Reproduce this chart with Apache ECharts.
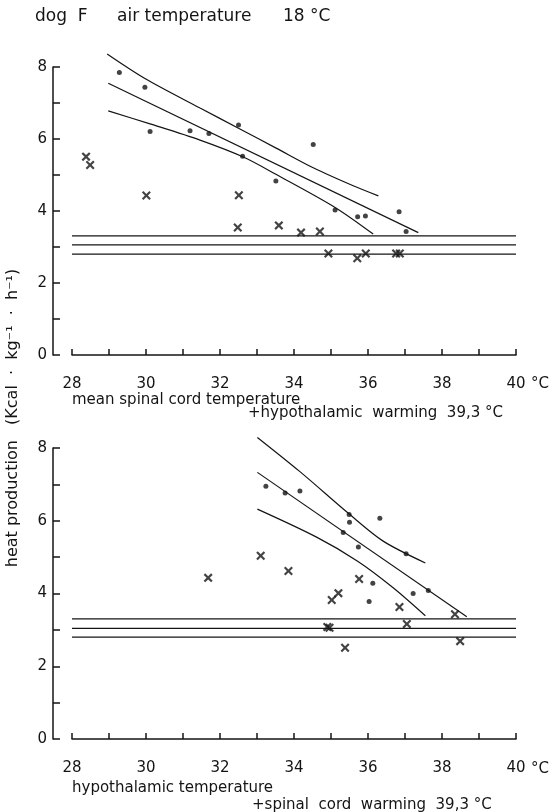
<!DOCTYPE html>
<html>
<head>
<meta charset="utf-8">
<script src="https://cdn.jsdelivr.net/npm/echarts@6/dist/echarts.min.js"></script>
<style>
html, body { margin: 0; padding: 0; background: #fff; }
#chart { width: 559px; height: 812px; }
</style>
</head>
<body>
<div id="chart"></div>
<script>
// panel 1: spinal cord temperature (+ hypothalamic warming)
var topDots = [[29.28, 7.85], [29.97, 7.44], [30.11, 6.21], [31.19, 6.23], [31.70, 6.15], [32.50, 6.39],
    [32.61, 5.52], [33.51, 4.83], [34.52, 5.85], [35.11, 4.03], [35.72, 3.84], [35.93, 3.86],
    [36.84, 3.98], [37.03, 3.43]];
var topCrosses = [[28.38, 5.51], [28.49, 5.28], [30.01, 4.43], [32.51, 4.44], [32.48, 3.54], [33.59, 3.60],
    [34.19, 3.40], [34.70, 3.43], [34.93, 2.82], [35.71, 2.69], [35.94, 2.82], [36.76, 2.82], [36.86, 2.82]];
var topUpper = [[28.95, 8.36], [29.97, 7.68], [31.46, 6.86], [32.50, 6.30], [33.53, 5.74], [34.52, 5.20],
    [35.60, 4.70], [36.28, 4.42]];
var topMiddle = [[28.98, 7.55], [37.36, 3.40]];
var topLower = [[28.98, 6.78], [30.11, 6.42], [31.46, 5.97], [32.63, 5.50], [33.51, 5.02], [35.11, 4.10],
    [36.14, 3.36]];
var topLevels = [3.31, 3.06, 2.80];

// panel 2: hypothalamic temperature (+ spinal cord warming)
var botDots = [[33.24, 6.95], [33.76, 6.76], [34.16, 6.82], [35.49, 6.17], [35.50, 5.96], [36.32, 6.07],
    [35.33, 5.68], [35.74, 5.28], [37.03, 5.09], [36.13, 4.28], [36.03, 3.78], [37.22, 4.00], [37.63, 4.08]];
var botOpen = [[32.70, 5.21]];
var botCrosses = [[33.10, 5.04], [31.68, 4.43], [33.85, 4.62], [35.76, 4.40], [35.02, 3.82], [35.20, 4.01],
    [36.85, 3.63], [34.90, 3.08], [34.96, 3.06], [35.38, 2.51], [37.05, 3.16], [38.35, 3.43], [38.49, 2.69]];
var botUpper = [[33.01, 8.29], [34.16, 7.35], [35.51, 6.17], [36.41, 5.44], [37.55, 4.84]];
var botMiddle = [[33.01, 7.33], [38.67, 3.36]];
var botLower = [[33.01, 6.32], [34.61, 5.55], [35.72, 4.89], [36.68, 4.16], [37.55, 3.39]];
var botLevels = [3.30, 3.04, 2.80];

var xMin = 28, xMax = 40;
var yMin = 0, yMax = 8;

var FONT = '"DejaVu Sans", "Liberation Sans", sans-serif';
var INK = '#141414';
var crossPath = 'path://M0,1.7L1.7,0L5,3.3L8.3,0L10,1.7L6.7,5L10,8.3L8.3,10L5,6.7L1.7,10L0,8.3L3.3,5Z';

function xAxisFor(idx) {
    return {
        type: 'value', gridIndex: idx, min: xMin, max: xMax, interval: 1,
        position: 'bottom', offset: 19,
        axisLine: { lineStyle: { color: INK, width: 1.5 } },
        axisTick: { inside: true, length: 6, lineStyle: { color: INK, width: 1.5 } },
        axisLabel: {
            color: INK, fontFamily: FONT, fontSize: 15, margin: 3,
            formatter: function (v) { return v % 2 === 0 ? String(v) : ''; }
        },
        splitLine: { show: false }
    };
}
function yAxisFor(idx) {
    return {
        type: 'value', gridIndex: idx, min: yMin, max: yMax, interval: 1,
        offset: 19,
        axisLine: { show: true, lineStyle: { color: INK, width: 1.5 } },
        axisTick: { show: true, inside: true, length: 7, lineStyle: { color: INK, width: 1.5 } },
        axisLabel: {
            color: INK, fontFamily: FONT, fontSize: 15, margin: 6,
            formatter: function (v) { return v % 2 === 0 ? String(v) : ''; }
        },
        splitLine: { show: false }
    };
}

function lineSeries(idx, data, smooth) {
    return {
        type: 'line', xAxisIndex: idx, yAxisIndex: idx, data: data,
        smooth: smooth ? 0.3 : false, symbol: 'none', silent: true, clip: false,
        lineStyle: { color: INK, width: 1.2 }
    };
}
function levelSeries(idx, levels) {
    return levels.map(function (v) {
        return lineSeries(idx, [[xMin, v], [xMax, v]], false);
    });
}
function panelSeries(idx, dots, crosses, upper, middle, lower, levels) {
    var s = [
        lineSeries(idx, upper, true),
        lineSeries(idx, middle, false),
        lineSeries(idx, lower, true)
    ].concat(levelSeries(idx, levels));
    s.push({
        type: 'scatter', xAxisIndex: idx, yAxisIndex: idx, data: dots,
        symbol: 'circle', symbolSize: 5, itemStyle: { color: INK }
    });
    s.push({
        type: 'scatter', xAxisIndex: idx, yAxisIndex: idx, data: crosses,
        symbol: crossPath, symbolSize: 9, itemStyle: { color: INK }
    });
    return s;
}

var series = panelSeries(0, topDots, topCrosses, topUpper, topMiddle, topLower, topLevels)
    .concat(panelSeries(1, botDots, botCrosses, botUpper, botMiddle, botLower, botLevels));
series.push({
    type: 'scatter', xAxisIndex: 1, yAxisIndex: 1, data: botOpen,
    symbol: 'emptyCircle', symbolSize: 5,
    itemStyle: { color: '#fff', borderColor: INK, borderWidth: 1.2 }
});

function txt(x, y, s, size, align) {
    return {
        type: 'text', x: x, y: y, silent: true,
        style: { text: s, font: size + 'px ' + FONT, fill: INK, align: align || 'left', verticalAlign: 'middle' }
    };
}

var myChart = echarts.init(document.getElementById('chart'), null, { renderer: 'canvas' });
var option = {
    animation: false,
    backgroundColor: '#fff',
    grid: [
        { left: 72, width: 444, top: 67, height: 288 },
        { left: 72, width: 444, top: 448, height: 291 }
    ],
    xAxis: [xAxisFor(0), xAxisFor(1)],
    yAxis: [yAxisFor(0), yAxisFor(1)],
    series: series,
    graphic: [
        txt(35, 17, 'dog  F', 17),
        txt(117, 17, 'air temperature', 17),
        txt(283, 17, '18 °C', 17),
        txt(531, 384, '°C', 15),
        txt(72, 400, 'mean spinal cord temperature', 15),
        txt(248, 413, '+hypothalamic  warming  39,3 °C', 15),
        txt(531, 769, '°C', 15),
        txt(72, 788, 'hypothalamic temperature', 15),
        txt(252, 805, '+spinal  cord  warming  39,3 °C', 15),
        {
            type: 'text', x: 13, y: 418, rotation: Math.PI / 2, silent: true,
            style: {
                text: 'heat production   (Kcal  ·  kg⁻¹  ·  h⁻¹)',
                font: '16px ' + FONT, fill: INK, align: 'center', verticalAlign: 'middle'
            }
        }
    ]
};
myChart.setOption(option);
</script>
</body>
</html>
